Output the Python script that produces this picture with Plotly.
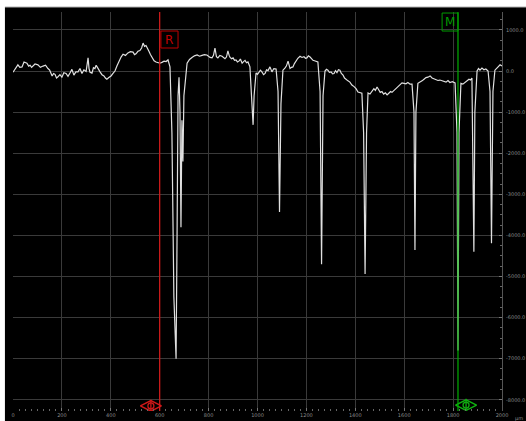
import plotly.graph_objects as go

# Profile data (position in µm, height in nm)
x_um = [0, 10, 20, 28, 37, 45, 57, 64, 70, 76, 82, 90, 102, 112, 123, 133, 143, 150, 160, 166,
        172, 178, 184, 192, 200, 208, 217, 225, 233, 241, 249, 257, 266, 274, 282, 290, 299, 303, 307, 311,
        315, 323, 329, 335, 340, 344, 350, 356, 364, 372, 378, 384, 392, 401, 409, 417, 425, 434, 442, 450,
        460, 470, 480, 491, 497, 503, 511, 519, 526, 532, 538, 544, 550, 556, 562, 569, 577, 585, 593, 601,
        609, 618, 626, 634, 642,
        650, 658, 667, 671, 675, 679, 683, 687, 691, 695, 699,
        712, 722, 732, 742, 753, 763, 773, 783, 793, 800, 806, 814, 820, 826, 832, 838, 846, 855, 861, 867,
        873, 879, 884, 888, 894, 900, 906, 912, 918, 924, 930, 937, 943, 949, 955, 961, 969,
        977, 982, 986, 994, 1000, 1006, 1012, 1018, 1025, 1031, 1037, 1043, 1051, 1055, 1059, 1067, 1076,
        1084, 1090, 1096, 1104,
        1112, 1118, 1125, 1129, 1133, 1139, 1145, 1151, 1157, 1165, 1174, 1182, 1190, 1196, 1202, 1208,
        1215, 1221, 1227, 1233, 1239, 1247,
        1256, 1262, 1268,
        1276, 1282, 1288, 1294, 1301, 1307, 1313, 1319, 1325, 1331, 1337, 1343, 1350, 1356, 1362, 1370,
        1378, 1386, 1395, 1403, 1411, 1419, 1427,
        1434, 1440, 1446,
        1452, 1460, 1468, 1476, 1482, 1489, 1495, 1502, 1509, 1516, 1523, 1530, 1537, 1544, 1550, 1558,
        1566, 1575, 1583, 1591, 1599, 1607, 1615, 1624, 1632,
        1640, 1644, 1648,
        1656, 1664, 1673, 1681, 1689, 1697, 1706, 1714, 1722, 1730, 1738, 1746, 1755, 1763, 1771, 1779,
        1787, 1797, 1808,
        1816, 1820, 1824, 1832, 1840, 1849, 1857, 1865, 1871, 1877,
        1885, 1889, 1898, 1904, 1910, 1918, 1926, 1934, 1943, 1951, 1957, 1963, 1971, 1978, 1984, 1992, 2000]
y_nm = [-30, 60, 150, 90, 100, 220, 190, 120, 140, 90, 120, 170, 150, 90, 120, 140, 60, 20, -120, -60,
        -80, -170, -140, -90, -150, -40, -60, -130, -50, 40, -100, -20, -20, 60, -60, 30, -10, 120, 320, 60,
        -30, -50, 80, 60, 140, 100, 20, -20, -90, -120, -170, -200, -160, -120, -60, 0, 120, 260, 340, 410,
        380, 440, 470, 460, 400, 420, 480, 500, 560, 680, 600, 620, 560, 480, 400, 340, 250, 220, 200, 190,
        210, 240, 230, 270, 100,
        -1500, -5500, -7000, -4000, -600, -150, -1000, -3800, -1200, -2200, -600,
        190, 280, 330, 370, 390, 360, 380, 400, 390, 350, 330, 320, 380, 560, 350, 320, 380, 360, 320, 300,
        340, 490, 380, 330, 300, 320, 260, 270, 220, 240, 290, 190, 230, 260, 200, 220, 100,
        -700, -1310, -600, -50, -80, -30, 20, -20, -90, -60, 30, 10, 100, 40, -20, 60, 50,
        -500, -3430, -800, 20,
        70, 120, 240, 130, 60, 90, 100, 180, 250, 310, 360, 330, 350, 310, 320, 370,
        340, 290, 260, 250, 230, 220,
        -500, -4700, -600,
        0, 40, 20, -30, -20, -70, -60, 10, -40, 30, 20, -60, -100, -170, -210, -240,
        -270, -340, -380, -430, -510, -520, -540,
        -1500, -4940, -1500,
        -535, -560, -480, -430, -470, -390, -450, -520, -500, -560, -530, -580, -540, -500, -520, -470,
        -440, -390, -330, -290, -300, -310, -280, -320, -320,
        -1000, -4355, -1000,
        -300, -280, -240, -200, -160, -150, -120, -170, -190, -210, -230, -220, -240, -250, -270, -230,
        -280, -260, -290,
        -1500, -6800, -1500, -300, -320, -270, -230, -200, -220, -170,
        -4400, -1000, 0, 60, 20, 70, 30, 50, 0, -500, -4190, -500, 20, 80, 100, 150, 120]
assert len(x_um) == len(y_nm)

x_ticks = [0, 200, 400, 600, 800, 1000, 1200, 1400, 1600, 1800, 2000]
x_labels = ["0", "200", "400", "600", "800", "1000", "1200", "1400", "1600", "1800", "2000"]
y_ticks = [1000, 0, -1000, -2000, -3000, -4000, -5000, -6000, -7000, -8000]
y_labels = ["1000.0", "0.0", "-1000.0", "-2000.0", "-3000.0", "-4000.0", "-5000.0", "-6000.0", "-7000.0", "-8000.0"]

cursor_r = 600
cursor_m = 1820
eye_r = [564, -8150]
eye_m = [1853, -8130]

tick_font = dict(family="DejaVu Sans", size=5, color="#8a8a8a")

fig = go.Figure()
fig.add_trace(go.Scatter(x=x_um, y=y_nm, mode="lines",
                         line=dict(color="#e0e0e0", width=1.2), hoverinfo="skip"))

# cursor eye symbols at the bottom
for (ex, ey), col in [(eye_r, "#d01818"), (eye_m, "#10b010")]:
    fig.add_trace(go.Scatter(x=[ex], y=[ey], mode="markers",
                             marker=dict(symbol="diamond-wide-open", size=15, color=col,
                                         line=dict(color=col, width=1.5)),
                             hoverinfo="skip"))
    fig.add_trace(go.Scatter(x=[ex], y=[ey], mode="markers",
                             marker=dict(symbol="circle-open", size=6, color=col,
                                         line=dict(color=col, width=1.3)),
                             hoverinfo="skip"))
    fig.add_trace(go.Scatter(x=[ex], y=[ey], mode="markers",
                             marker=dict(symbol="line-ns", size=9, color=col,
                                         line=dict(color=col, width=1.3)),
                             hoverinfo="skip"))

shapes = [
    # white strips on top and left
    dict(type="rect", xref="paper", yref="paper", x0=-0.03, x1=1.06, y0=1.0125, y1=1.04,
         fillcolor="white", line=dict(width=0), layer="above"),
    dict(type="line", xref="paper", yref="paper", x0=-0.017, x1=1.06, y0=1.0125, y1=1.0125,
         line=dict(color="#b0b0b0", width=1), layer="above"),
    dict(type="rect", xref="paper", yref="paper", x0=-0.03, x1=-0.0165, y0=-0.05, y1=1.04,
         fillcolor="white", line=dict(width=0), layer="above"),
    # cursors
    dict(type="line", xref="x", yref="paper", x0=cursor_r, x1=cursor_r, y0=0, y1=1,
         line=dict(color="#d81818", width=1.2)),
    dict(type="line", xref="x", yref="paper", x0=cursor_m, x1=cursor_m, y0=0, y1=1,
         line=dict(color="#00b000", width=1.2)),
    dict(type="rect", xref="x", yref="y", x0=605, x1=675, y0=560, y1=973,
         line=dict(color="#c00000", width=1)),
    dict(type="rect", xref="x", yref="y", x0=1755, x1=1820, y0=973, y1=1411,
         line=dict(color="#009a00", width=1)),
]

annotations = [
    dict(x=640, y=766, xref="x", yref="y", text="R", showarrow=False,
         font=dict(family="DejaVu Sans", size=12, color="#c00000")),
    dict(x=1787, y=1192, xref="x", yref="y", text="M", showarrow=False,
         font=dict(family="DejaVu Sans", size=12, color="#009a00")),
    dict(x=1.022, y=-0.005, xref="paper", yref="paper", text="µm", showarrow=False,
         xanchor="left", yanchor="top", font=tick_font),
]

fig.update_layout(
    width=526, height=421,
    margin=dict(l=13, r=24, t=12, b=10),
    paper_bgcolor="black", plot_bgcolor="black",
    showlegend=False,
    shapes=shapes, annotations=annotations,
    xaxis=dict(range=[0, 2000], tickvals=x_ticks, ticktext=x_labels, automargin=False,
               showgrid=True, gridcolor="#3a3a3a", gridwidth=1, zeroline=False,
               ticks="inside", ticklen=3, tickcolor="#777",
               minor=dict(dtick=25, ticks="inside", ticklen=2, tickcolor="#666", showgrid=False),
               tickfont=tick_font, showline=False, fixedrange=True),
    yaxis=dict(range=[-8273, 1436], side="right", tickvals=y_ticks, ticktext=y_labels, automargin=False,
               showgrid=True, gridcolor="#3a3a3a", gridwidth=1, zeroline=False,
               ticks="inside", ticklen=3, tickcolor="#777",
               minor=dict(dtick=250, ticks="inside", ticklen=2, tickcolor="#666", showgrid=False),
               showline=True, linecolor="#555", linewidth=1, ticklabelstandoff=2,
               tickfont=tick_font, fixedrange=True),
)

fig.write_html("out.html", config={"displayModeBar": False},
               post_script="document.body.style.margin='0px';document.body.style.overflow='hidden';")
